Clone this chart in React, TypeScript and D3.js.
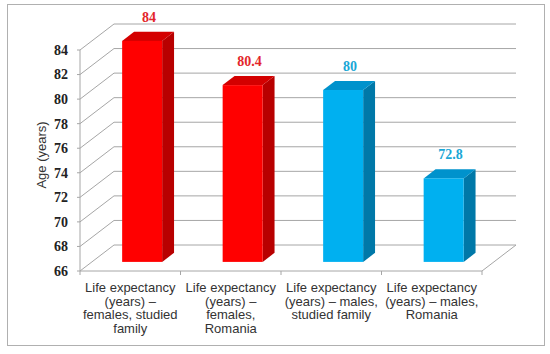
import React from 'react';
import * as d3 from 'd3';

// chart data
const categories = [
  ['Life expectancy', '(years) \u2013', 'females, studied', 'family'],
  ['Life expectancy', '(years) \u2013', 'females,', 'Romania'],
  ['Life expectancy', '(years) \u2013 males,', 'studied family'],
  ['Life expectancy', '(years) \u2013 males,', 'Romania'],
];
const values = [84, 80.4, 80, 72.8];
const labels = ['84', '80.4', '80', '72.8'];
const groups = ['female', 'female', 'male', 'male'];
const yTicks = [66, 68, 70, 72, 74, 76, 78, 80, 82, 84];

const W = 550, H = 354;
// depth of the 3d box (back wall offset)
const depth = { dx: 34, dy: 26 };
const barZ0 = 0.35, barZ1 = 0.7;
const barW = 40;

const colors: Record<string, { front: string; side: string; top: string; text: string }> = {
  female: { front: '#ff0000', side: '#b80000', top: '#d40000', text: '#e3262b' },
  male: { front: '#00b0f0', side: '#0078a8', top: '#0092cc', text: '#1aa7d6' },
};

const App = () => {
  const y = d3.scaleLinear().domain([66, 84]).range([271, 50]);
  const x = d3.scaleBand<number>().domain(d3.range(categories.length)).range([80, 482]).padding(0);
  const [x0, x1] = x.range();
  const bw = x.bandwidth();

  const bars = values.map((v, i) => {
    const c = colors[groups[i]];
    const fx = x(i)! + (bw - barW) / 2 + barZ0 * depth.dx;
    const off = -barZ0 * depth.dy;
    const bx = (barZ1 - barZ0) * depth.dx;
    const by = -(barZ1 - barZ0) * depth.dy;
    const top = y(v) + off;
    const bottom = y(66) + off;
    return (
      <g key={i}>
        <polygon
          points={`${fx + barW},${top} ${fx + barW + bx},${top + by} ${fx + barW + bx},${bottom + by} ${fx + barW},${bottom}`}
          fill={c.side}
        />
        <polygon
          points={`${fx},${top} ${fx + bx},${top + by} ${fx + barW + bx},${top + by} ${fx + barW},${top}`}
          fill={c.top}
        />
        <rect x={fx} y={top} width={barW} height={bottom - top} fill={c.front} />
        <text
          x={fx + barW / 2 + bx / 2 + 1}
          y={top + by - 10}
          textAnchor="middle"
          fontFamily="'Liberation Serif', serif"
          fontWeight="bold"
          fontSize={14}
          fill={c.text}
        >
          {labels[i]}
        </text>
      </g>
    );
  });

  return (
    <svg width={W} height={H} style={{ position: 'absolute', left: 0, top: 0, background: '#fff' }}>
      <rect x={7.5} y={4.5} width={537} height={341} fill="#fff" stroke="#b0b0b0" />
      {/* walls grid */}
      {yTicks.map((t) => (
        <g key={t} stroke="#a6a6a6" strokeWidth={1} fill="none">
          <line x1={x0} y1={y(t)} x2={x0 + depth.dx} y2={y(t) - depth.dy} />
          <line x1={x0 + depth.dx} y1={y(t) - depth.dy} x2={x1 + depth.dx} y2={y(t) - depth.dy} />
        </g>
      ))}
      {/* floor right edge */}
      <line x1={x1} y1={y(66)} x2={x1 + depth.dx} y2={y(66) - depth.dy} stroke="#a6a6a6" />
      {/* value axis */}
      <line x1={x0} y1={y(84)} x2={x0} y2={y(66)} stroke="#a6a6a6" />
      {yTicks.map((t) => (
        <g key={'t' + t}>
          <line x1={x0 - 3} y1={y(t)} x2={x0} y2={y(t)} stroke="#a6a6a6" />
          <text
            x={x0 - 12}
            y={y(t)}
            dy="0.35em"
            textAnchor="end"
            fontFamily="'Liberation Serif', serif"
            fontWeight="bold"
            fontSize={14}
            fill="#222"
          >
            {t}
          </text>
        </g>
      ))}
      {/* category axis */}
      <line x1={x0} y1={y(66)} x2={x1} y2={y(66)} stroke="#a6a6a6" />
      {d3.range(categories.length + 1).map((i) => (
        <line key={'c' + i} x1={x0 + i * bw} y1={y(66)} x2={x0 + i * bw} y2={y(66) + 4} stroke="#a6a6a6" />
      ))}
      {bars}
      {categories.map((lines, i) => (
        <text
          key={'l' + i}
          x={x(i)! + bw / 2}
          y={292}
          textAnchor="middle"
          fontFamily="'Liberation Sans', Arial, sans-serif"
          fontSize={13}
          fill="#333"
        >
          {lines.map((l, j) => (
            <tspan key={j} x={x(i)! + bw / 2} dy={j === 0 ? 0 : 13.5}>
              {l}
            </tspan>
          ))}
        </text>
      ))}
      <text
        transform={`translate(46,155) rotate(-90)`}
        textAnchor="middle"
        fontFamily="'Liberation Sans', Arial, sans-serif"
        fontSize={13}
        fill="#333"
      >
        Age (years)
      </text>
    </svg>
  );
};

export default App;
